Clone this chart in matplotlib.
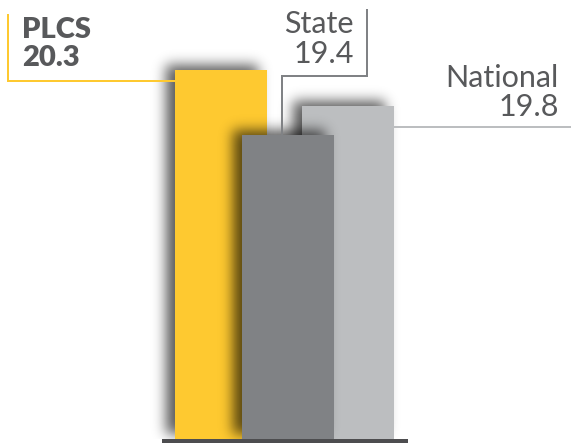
import numpy as np
import matplotlib
matplotlib.use("Agg")
import matplotlib.pyplot as plt
from matplotlib.lines import Line2D

# ---- data ----
categories = ["PLCS", "State", "National"]
values = [20.3, 19.4, 19.8]
value_labels = ["20.3", "19.4", "19.8"]

# ---- style / layout ----
bar_colors = ["#FEC930", "#808285", "#BCBEC0"]
line_colors = ["#FEC930", "#808285", "#BCBEC0"]
text_color = "#58595B"
base_color = "#4D4D4F"
W, H = 571, 443
DPI = 100
xpos = [0.0, 0.734, 1.392]       # bar centres (in bar-width units)
zorders = [1, 5, 3]               # dark bar on top, light below it
base = 15.2
px_x = 91.5                        # pixels per x unit
px_y = 72.35                       # pixels per y unit

plt.rcParams['font.family'] = ['Lato', 'DejaVu Sans']

fig = plt.figure(figsize=(W / DPI, H / DPI), dpi=DPI)
ax = fig.add_axes([0, 0, 1, 1])
ax.set_xlim(-220.8 / px_x, (W - 220.8) / px_x)
ax.set_ylim(base - 4 / px_y, base - 4 / px_y + H / px_y)
ax.axis("off")

bars = []
for x, v, c, z in zip(xpos, values, bar_colors, zorders):
    b = ax.bar(x, v - base, bottom=base, width=1.0, color=c, zorder=z,
               linewidth=0)[0]
    bars.append(b)

fig.canvas.draw()


def gauss_blur(a, sigma):
    r = int(3 * sigma)
    k = np.exp(-0.5 * (np.arange(-r, r + 1) / sigma) ** 2)
    k /= k.sum()
    a = np.apply_along_axis(lambda m: np.convolve(m, k, mode="same"), 0, a)
    a = np.apply_along_axis(lambda m: np.convolve(m, k, mode="same"), 1, a)
    return a


# soft drop shadows (towards upper-left)
extent = (*ax.get_xlim(), *ax.get_ylim())
base_px = ax.transData.transform((0, base))[1]
for b, z in zip(bars, zorders):
    (x0, y0), (x1, y1) = ax.transData.transform(
        [(b.get_x(), b.get_y()), (b.get_x() + b.get_width(), b.get_y() + b.get_height())])
    off_x, off_y = -9, 5
    mask = np.zeros((H, W))
    r0 = int(round(y0 + off_y)); r1 = int(round(y1 + off_y))
    c0 = int(round(x0 + off_x)); c1 = int(round(x1 + off_x))
    mask[max(r0, 0):min(r1, H), max(c0, 0):min(c1, W)] = 1.0
    alpha = gauss_blur(mask, 6.5) * 0.65
    alpha[: int(base_px), :] = 0
    rgba = np.zeros((H, W, 4))
    rgba[..., 3] = alpha
    ax.imshow(rgba, extent=extent, origin="lower", aspect="auto",
              zorder=z - 0.5, interpolation="nearest")

# baseline
lefts = [b.get_x() for b in bars]
rights = [b.get_x() + b.get_width() for b in bars]
ax.hlines(base - 2 / px_y, min(lefts) - 13 / px_x, max(rights) + 14 / px_x,
          color=base_color, lw=4 * 72 / DPI, zorder=10)


def fx(x):
    return x / W


def fy(y):
    return 1 - y / H


def to_px(xd, yd):
    px, py = ax.transData.transform((xd, yd))
    return px, H - py


lw = 2 * 72 / DPI
# PLCS leader
bx, _ = to_px(bars[0].get_x(), values[0])
pts = [(bx, 81), (8, 81), (8, 14)]
fig.add_artist(Line2D([fx(p[0]) for p in pts], [fy(p[1]) for p in pts],
                      color=line_colors[0], lw=lw, solid_capstyle="butt",
                      solid_joinstyle="miter", zorder=2))
# State leader
_, by = to_px(xpos[1], values[1])
pts = [(282, by), (282, 76), (367, 76), (367, 9)]
fig.add_artist(Line2D([fx(p[0]) for p in pts], [fy(p[1]) for p in pts],
                      color=line_colors[1], lw=lw, solid_capstyle="butt",
                      solid_joinstyle="miter", zorder=2))
# National leader
bx, _ = to_px(bars[2].get_x() + bars[2].get_width(), values[2])
pts = [(bx, 127), (W, 127)]
fig.add_artist(Line2D([fx(p[0]) for p in pts], [fy(p[1]) for p in pts],
                      color=line_colors[2], lw=lw, solid_capstyle="butt",
                      zorder=2))

# labels
fig.text(fx(22), fy(38), categories[0], ha="left", va="baseline",
         fontsize=21, fontweight="heavy", color=text_color)
fig.text(fx(22), fy(66.5), value_labels[0], ha="left", va="baseline",
         fontsize=21, fontweight="heavy", color=text_color)
fig.text(fx(354), fy(33), categories[1], ha="right", va="baseline",
         fontsize=22, color=text_color)
fig.text(fx(354), fy(63), value_labels[1], ha="right", va="baseline",
         fontsize=22, color=text_color)
fig.text(fx(559), fy(87), categories[2], ha="right", va="baseline",
         fontsize=22, color=text_color)
fig.text(fx(559), fy(116), value_labels[2], ha="right", va="baseline",
         fontsize=22, color=text_color)

fig.savefig("out.png", dpi=DPI)
